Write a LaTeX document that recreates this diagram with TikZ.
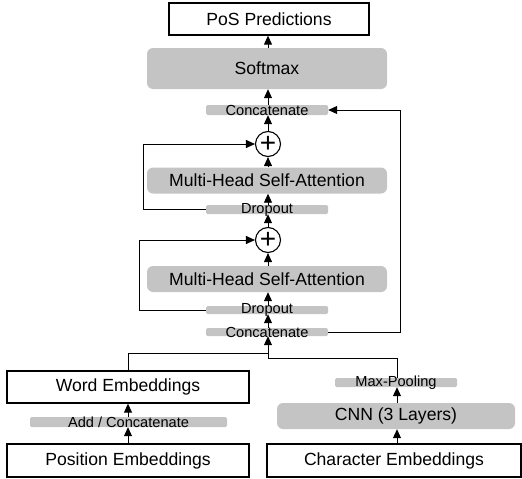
\documentclass[tikz,border=0pt]{standalone}
\usepackage{fontspec}
\setmainfont{Liberation Sans}
\usetikzlibrary{arrows.meta}
\definecolor{barfill}{RGB}{196,196,196}
\tikzset{
  bigtxt/.style={font=\fontsize{17.6}{20}\selectfont},
  smalltxt/.style={font=\fontsize{14.6}{17}\selectfont, inner sep=0pt},
  whitebox/.style={draw, line width=1.3pt, fill=white, inner sep=0pt, bigtxt},
  graybox/.style={fill=barfill, rounded corners=6pt, inner sep=0pt, bigtxt, minimum width=240pt},
  bar/.style={fill=barfill, rounded corners=1.5pt, inner sep=0pt, minimum width=122pt},
  plusnode/.style={draw, circle, line width=1.1pt, minimum size=25pt, inner sep=0pt, font=\fontsize{28}{28}\selectfont},
  conn/.style={line width=0.9pt},
  arr/.style={conn, -{Triangle[length=9pt,width=8pt]}}
}
\begin{document}
\begin{tikzpicture}[x=1pt,y=-1pt]
\useasboundingbox (0,0) rectangle (522,479);
% main column
\node[whitebox, minimum width=200pt, minimum height=32pt] (pos) at (269,19) {PoS Predictions};
\node[graybox, minimum height=41pt] (soft) at (267,68.5) {Softmax};
\node[bar, minimum height=10pt, label={[smalltxt]center:Concatenate}] (ctop) at (267,110) {};
\node[plusnode] (p1) at (268,144) {\raisebox{-1pt}{+}};
\node[graybox, minimum height=26pt] (m1) at (267,180.5) {Multi-Head Self-Attention};
\node[bar, minimum height=9pt, label={[smalltxt]center:Dropout}] (d1) at (267,209.5) {};
\node[plusnode] (p2) at (268,240) {\raisebox{-1pt}{+}};
\node[graybox, minimum height=26pt] (m2) at (267,279) {Multi-Head Self-Attention};
\node[bar, minimum height=8pt, label={[smalltxt]center:Dropout}] (d2) at (267,310) {};
\node[bar, minimum height=8pt, label={[smalltxt]center:Concatenate}] (cbot) at (267,332) {};
% bottom left
\node[whitebox, minimum width=242pt, minimum height=32pt] (word) at (128,387) {Word Embeddings};
\node[bar, minimum width=197pt, minimum height=10pt, label={[smalltxt]center:Add / Concatenate}] (addc) at (128.5,422) {};
\node[whitebox, minimum width=242pt, minimum height=33pt] (posemb) at (128,460.5) {Position Embeddings};
% bottom right
\node[whitebox, minimum width=254pt, minimum height=33pt] (chr) at (394,460.5) {Character Embeddings};
\node[graybox, minimum width=238pt, minimum height=26pt] (cnn) at (396,416) {CNN (3 Layers)};
\node[bar, minimum height=9pt, label={[smalltxt]center:Max-Pooling}] (mp) at (396,382.5) {};
\coordinate (j1) at (268,353);
\coordinate (j2) at (268,358);
% connectors main column
\draw[arr] (268,0 |- soft.north) -- (268,0 |- pos.south);
\draw[arr] (268,0 |- ctop.north) -- (268,0 |- soft.south);
\draw[arr] (p1.north) -- (268,0 |- ctop.south);
\draw[arr] (268,0 |- m1.north) -- (p1.south);
\draw[arr] (268,0 |- d1.north) -- (268,0 |- m1.south);
\draw[arr] (p2.north) -- (268,0 |- d1.south);
\draw[arr] (268,0 |- m2.north) -- (p2.south);
\draw[arr] (268,0 |- d2.north) -- (268,0 |- m2.south);
\draw[arr] (268,0 |- cbot.north) -- (268,0 |- d2.south);
% residuals
\draw[arr] (d1.west) -- (143,0 |- d1.west) |- (p1.west);
\draw[arr] (d2.west) -- (139,0 |- d2.west) |- (p2.west);
\draw[arr] (cbot.east) -- (400,0 |- cbot.east) |- (ctop.east);
% bottom merges
\draw[conn] (word.north) |- (j1);
\draw[arr] (397,0 |- mp.north) |- (j2) -- (268,0 |- cbot.south);
\draw[arr] (128,0 |- posemb.north) -- (128,0 |- addc.south);
\draw[arr] (128,0 |- addc.north) -- (128,0 |- word.south);
\draw[arr] (397,0 |- chr.north) -- (397,0 |- cnn.south);
\draw[arr] (397,0 |- cnn.north) -- (397,0 |- mp.south);
\end{tikzpicture}
\end{document}
